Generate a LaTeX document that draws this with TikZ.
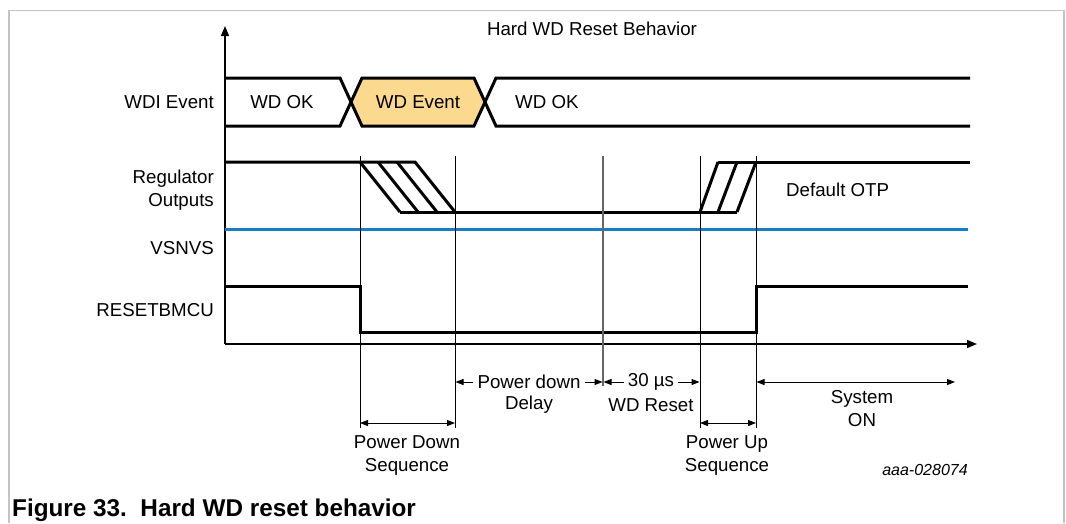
\documentclass[tikz,border=0pt]{standalone}
\usepackage{fontspec}
\setmainfont{Liberation Sans}
\usetikzlibrary{arrows.meta}
\definecolor{evfill}{RGB}{251,217,142}
\definecolor{vblue}{RGB}{22,125,200}
\definecolor{framegray}{RGB}{195,195,195}
\begin{document}
\begin{tikzpicture}[x=1pt,y=-1pt,
  font=\fontsize{18.7}{23}\selectfont,
  sig/.style={line width=3pt},
  guide/.style={line width=0.9pt},
  axis/.style={line width=1.5pt,-{Triangle[length=10pt,width=8pt]}},
  dimtip/.style={line width=1pt,-{Triangle[length=8pt,width=6pt]}},
  dimboth/.style={line width=1pt,{Triangle[length=8pt,width=6pt]}-{Triangle[length=8pt,width=6pt]}},
  lbl/.style={anchor=east,inner sep=0pt,align=right},
  txt/.style={inner sep=0pt,align=center},
  dlbl/.style={inner sep=4pt}]
\useasboundingbox (0,0) rectangle (1066,523);
% frame
\draw[framegray,line width=1.5pt] (9,523) -- (9,10.5) -- (1064,10.5) -- (1064,523);
% axes
\coordinate (O) at (225,344);
\coordinate (ytop) at (225,26);
\coordinate (xend) at (977,344);
\draw[axis] (O) -- (ytop);
\draw[axis] (O) -- (xend);
% title
\node[txt] (title) at (592,29) {Hard WD Reset Behavior};
% left labels
\node[lbl] (wdi) at (214,102) {WDI Event};
\node[lbl] (reg) at (214,190) {Regulator\\Outputs};
\node[lbl] (vsn) at (214,248) {VSNVS};
\node[lbl] (rst) at (214,310) {RESETBMCU};
% WDI event bus
\fill[evfill] (362,78) -- (474,78) -- (485,102) -- (474,126) -- (362,126) -- (351,102) -- cycle;
\draw[sig] (225,78) -- (340,78) -- (362,126) -- (474,126) -- (496,78) -- (970,78);
\draw[sig] (225,126) -- (340,126) -- (362,78) -- (474,78) -- (496,126) -- (970,126);
\node[txt] (ok1) at (282,102) {WD OK};
\node[txt] (ev) at (418,102) {WD Event};
\node[txt,anchor=west] (ok2) at (515,102) {WD OK};
% regulator outputs
\draw[sig] (225,162) -- (415,162) -- (455,212);
\draw[sig] (360,162) -- (400,212);
\draw[sig] (378,162) -- (418,212);
\draw[sig] (397,162) -- (437,212);
\draw[sig] (400,212) -- (737,212);
\draw[sig] (700,212) -- (718,162);
\draw[sig] (718,212) -- (737,162);
\draw[sig] (737,212) -- (756,162);
\draw[sig] (718,162) -- (970,162);
\node[txt,anchor=west] (otp) at (786,190) {Default OTP};
% VSNVS
\draw[vblue,line width=3pt] (225,229) -- (968,229);
% RESETBMCU
\draw[sig] (225,286) -- (360,286) -- (360,332) -- (756,332) -- (756,286) -- (968,286);
% guide lines
\draw[guide] (360,156) -- (360,428);
\draw[guide] (455,156) -- (455,428);
\draw[guide,gray!80!black,line width=1.3pt] (603,156) -- (603,386);
\draw[guide] (700,156) -- (700,428);
\draw[guide] (756,156) -- (756,428);
% timing dimensions
\coordinate (pdL) at (360,423);
\coordinate (pdR) at (455,423);
\draw[dimboth] (pdL) -- (pdR);
\node[txt] (pds) at (407,455) {Power Down\\Sequence};
\coordinate (puL) at (700,423);
\coordinate (puR) at (756,423);
\draw[dimboth] (puL) -- (puR);
\node[txt] (pus) at (727,455) {Power Up\\Sequence};
\node[dlbl] (pdd) at (529,382) {Power down};
\coordinate (pddL) at (455.5,382);
\coordinate (pddR) at (602.5,382);
\draw[dimtip] (pdd.west) -- (pddL);
\draw[dimtip] (pdd.east) -- (pddR);
\node[txt] (delay) at (529,405) {Delay};
\node[dlbl] (us30) at (651,382) {30 µs};
\coordinate (usL) at (603.5,382);
\coordinate (usR) at (699.5,382);
\draw[dimtip] (us30.west) -- (usL);
\draw[dimtip] (us30.east) -- (usR);
\node[txt] (wdr) at (651,405) {WD Reset};
\coordinate (sysL) at (756.5,382);
\coordinate (sysR) at (955,382);
\draw[dimboth] (sysL) -- (sysR);
\node[txt] (sys) at (862,409) {System\\ON};
% id
\node[txt,font=\fontsize{16}{19}\selectfont\itshape] (id) at (925,470) {aaa-028074};
% caption
\node[anchor=base west,inner sep=0pt,font=\fontsize{24.3}{28}\selectfont\bfseries] (cap) at (12,516) {Figure 33.\ \ Hard WD reset behavior};
\end{tikzpicture}
\end{document}
